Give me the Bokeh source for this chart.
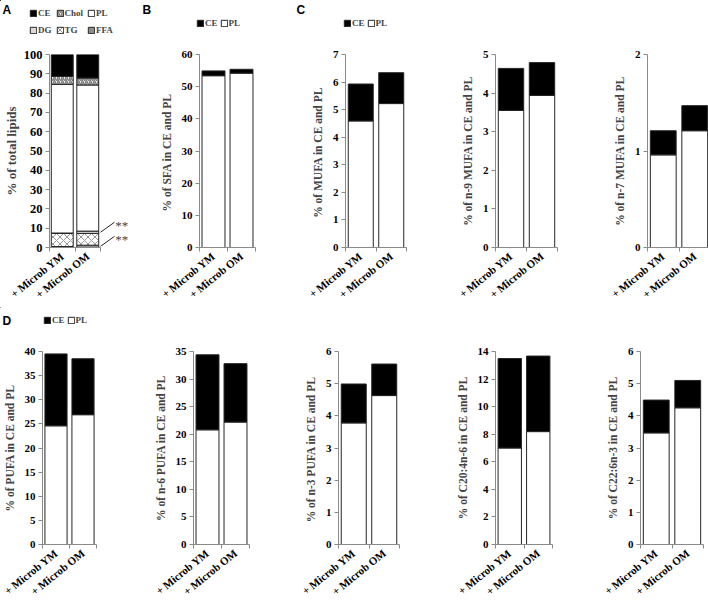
from bokeh.plotting import figure
from bokeh.layouts import row, column
from bokeh.models import Range1d, FixedTicker, Legend, LegendItem, Label, Arrow
from bokeh.embed import file_html
from bokeh.resources import INLINE

# ---------------- data ----------------
categories = ["+ Microb YM", "+ Microb OM"]

# Panel A: % of total lipids, stacked bottom -> top
lipid_classes = ["FFA", "TG", "DG", "PL", "Chol", "CE"]
lipids_ym = [0.5, 6.8, 0.2, 77.0, 4.1, 11.4]
lipids_om = [1.2, 6.1, 1.2, 75.7, 3.6, 12.2]
legend_order_a = ["CE", "Chol", "PL", "DG", "TG", "FFA"]
ticks_a = [0, 10, 20, 30, 40, 50, 60, 70, 80, 90, 100]

# CE / PL panels
sfa_pl = [53.4, 54.2]
sfa_ce = [1.5, 1.2]
ticks_sfa = [0, 10, 20, 30, 40, 50, 60]

mufa_pl = [4.59, 5.22]
mufa_ce = [1.34, 1.12]
ticks_mufa = [0, 1, 2, 3, 4, 5, 6, 7]

n9_pl = [3.55, 3.94]
n9_ce = [1.09, 0.85]
ticks_n9 = [0, 1, 2, 3, 4, 5]

n7_pl = [0.96, 1.21]
n7_ce = [0.25, 0.26]
ticks_n7 = [0, 1, 2]

pufa_pl = [24.6, 26.9]
pufa_ce = [14.9, 11.6]
ticks_pufa = [0, 5, 10, 15, 20, 25, 30, 35, 40]

n6_pl = [20.8, 22.2]
n6_ce = [13.6, 10.6]
ticks_n6 = [0, 5, 10, 15, 20, 25, 30, 35]

n3_pl = [3.78, 4.63]
n3_ce = [1.21, 0.98]
ticks_n3 = [0, 1, 2, 3, 4, 5, 6]

c20_pl = [7.0, 8.19]
c20_ce = [6.49, 5.48]
ticks_c20 = [0, 2, 4, 6, 8, 10, 12, 14]

c22_pl = [3.47, 4.25]
c22_ce = [1.02, 0.85]
ticks_c22 = [0, 1, 2, 3, 4, 5, 6]

# ---------------- style / layout ----------------
SERIF = "Liberation Serif"
SANS = "Liberation Sans"
GREY = "#8a8a8a"
EDGE = "#262626"
PAGE_W = 708
FH = 193
H1, MBT1 = 37, 17
H2, MBT2 = 22, 22
MBB = 60
OFF = [-1000]  # off-canvas position for the legend-only swatch renderers

A_FILL = {"CE": "black", "Chol": "white", "PL": "white", "DG": "#d9d9d9", "TG": "white", "FFA": "#8c8c8c"}
A_HATCH = {"Chol": dict(hatch_pattern="/", hatch_color="#7f7f7f", hatch_weight=1.6, hatch_scale=4),
           "TG": dict(hatch_pattern="x", hatch_color="#9a9a9a", hatch_weight=1, hatch_scale=7)}


def make_fig(fw, mbl, mbr, mbt, ticks, ylabel, tick_px="11px", label_px="11.5px", label_standoff=6,
             data_fw=None):
    n = len(categories)
    centers = [i + 0.5 for i in range(n)]
    bounds = [float(i) for i in range(n + 1)]
    x_end = n if data_fw is None else n * fw / data_fw
    p = figure(frame_width=fw, frame_height=FH, min_border_left=mbl, min_border_right=mbr,
               min_border_top=mbt, min_border_bottom=MBB,
               x_range=Range1d(0, x_end), y_range=Range1d(ticks[0], ticks[-1]),
               output_backend="svg", toolbar_location=None, tools="")
    p.outline_line_color = None
    p.xgrid.visible = False
    p.ygrid.visible = False
    ya = p.yaxis[0]
    ya.ticker = FixedTicker(ticks=ticks)
    ya.axis_label = ylabel
    ya.axis_label_text_font = SERIF
    ya.axis_label_text_font_style = "bold"
    ya.axis_label_text_font_size = label_px
    ya.axis_label_standoff = label_standoff
    ya.major_label_text_font = SERIF
    ya.major_label_text_font_style = "bold"
    ya.major_label_text_font_size = tick_px
    ya.major_label_text_color = "black"
    ya.axis_line_color = GREY
    ya.major_tick_line_color = GREY
    ya.major_tick_in = 0
    ya.major_tick_out = 4
    ya.minor_tick_line_color = None
    ya.major_label_standoff = 3
    xa = p.xaxis[0]
    xa.ticker = FixedTicker(ticks=centers, minor_ticks=bounds)
    xa.bounds = (0, n)
    xa.major_label_overrides = {c: lab for c, lab in zip(centers, categories)}
    xa.major_label_orientation = 0.68
    xa.major_label_text_font = SERIF
    xa.major_label_text_font_style = "bold"
    xa.major_label_text_font_size = "11px"
    xa.major_label_text_color = "black"
    xa.major_label_standoff = 3
    xa.major_tick_line_color = None
    xa.major_tick_in = 0
    xa.major_tick_out = 0
    xa.minor_tick_line_color = GREY
    xa.minor_tick_in = 0
    xa.minor_tick_out = 4
    xa.axis_line_color = GREY
    return p, centers


def make_header(h):
    p = figure(width=PAGE_W, height=h, x_range=Range1d(0, PAGE_W), y_range=Range1d(h, 0),
               min_border=0, output_backend="svg", toolbar_location=None, tools="",
               x_axis_location=None, y_axis_location=None)
    p.outline_line_color = None
    p.grid.visible = False
    return p


def add_legend(p, items, vx, vy, ncols, label_height=10, spacing=2):
    lg = Legend(items=items, location=(vx, vy), orientation="horizontal", ncols=ncols,
                label_text_font=SERIF, label_text_font_style="bold", label_text_font_size="9px",
                glyph_width=8, glyph_height=8, label_standoff=1, spacing=spacing, padding=0, margin=0,
                label_width=0, label_height=label_height, border_line_color=None,
                background_fill_alpha=0)
    p.add_layout(lg)


def add_letter(p, letter, x, y):
    p.add_layout(Label(x=x, y=y, text=letter, text_font=SANS, text_font_style="bold",
                       text_font_size="12px", text_align="left", text_baseline="middle",
                       text_color="black"))


def swatch(hdr, **kw):
    return hdr.vbar(x=OFF, bottom=OFF, top=OFF, width=1, line_color=EDGE, line_width=1, **kw)


def ce_pl_panel(fw, mbl, mbr, mbt, ticks, ylabel, pl, ce, width=0.82):
    p, cen = make_fig(fw, mbl, mbr, mbt, ticks, ylabel)
    tops = [a + b for a, b in zip(pl, ce)]
    p.vbar(x=cen, bottom=0, top=pl, width=width, fill_color="white", line_color=EDGE, line_width=1)
    p.vbar(x=cen, bottom=pl, top=tops, width=width, fill_color="black", line_color=EDGE, line_width=1)
    return p


def ce_pl_legend_items(hdr):
    return [LegendItem(label="CE", renderers=[swatch(hdr, fill_color="black")]),
            LegendItem(label="PL", renderers=[swatch(hdr, fill_color="white")])]


# ---------------- headers (panel letters + legends) ----------------
hdr1 = make_header(H1)
a_items = []
for name in legend_order_a:
    kw = dict(fill_color=A_FILL[name])
    kw.update(A_HATCH.get(name, {}))
    a_items.append(LegendItem(label=name, renderers=[swatch(hdr1, **kw)]))
add_legend(hdr1, a_items, 29, 0.5, 3, label_height=13, spacing=4)
add_legend(hdr1, ce_pl_legend_items(hdr1), 196, 9, 2)
add_legend(hdr1, ce_pl_legend_items(hdr1), 343, 9, 2)
add_letter(hdr1, "A", 2, 9)
add_letter(hdr1, "B", 142, 9)
add_letter(hdr1, "C", 296, 9)

hdr2 = make_header(H2)
add_legend(hdr2, ce_pl_legend_items(hdr2), 43, 4, 2)
add_letter(hdr2, "D", 2, 13.5)

# ---------------- panel A ----------------
pa, cen_a = make_fig(82, 42, 4, MBT1, ticks_a, "% of total lipids", tick_px="12.5px", label_px="13px",
                     label_standoff=2, data_fw=51)
for j, name in enumerate(lipid_classes):
    bottoms = [sum(v[:j]) for v in (lipids_ym, lipids_om)]
    tops = [sum(v[:j + 1]) for v in (lipids_ym, lipids_om)]
    kw = dict(fill_color=A_FILL[name], line_color=EDGE, line_width=1)
    kw.update(A_HATCH.get(name, {}))
    pa.vbar(x=cen_a, bottom=bottoms, top=tops, width=0.86, **kw)

ffa_mid = lipids_om[0] / 2
dg_mid = lipids_om[0] + lipids_om[1] + lipids_om[2] / 2
for y0 in (ffa_mid, dg_mid):
    pa.add_layout(Arrow(end=None, x_start=2.0, y_start=y0, x_end=2.55, y_end=y0 + 5.2,
                        line_color=EDGE, line_width=1))
    pa.add_layout(Label(x=2.58, y=y0 + 5.2, text="**", text_font=SERIF, text_font_size="13px",
                        text_color="#444444", text_baseline="alphabetic", y_offset=-3))

# ---------------- other panels ----------------
pb = ce_pl_panel(56, 64, 30, MBT1, ticks_sfa, "% of SFA  in CE and PL", sfa_pl, sfa_ce)
pc1 = ce_pl_panel(61, 60, 29, MBT1, ticks_mufa, "% of MUFA  in CE and PL", mufa_pl, mufa_ce)
pc2 = ce_pl_panel(62, 60, 10, MBT1, ticks_n9, "% of n-9 MUFA in CE and PL", n9_pl, n9_ce)
pc3 = ce_pl_panel(63, 80, 5, MBT1, ticks_n7, "% of n-7 MUFA in CE and PL", n7_pl, n7_ce)

pd1 = ce_pl_panel(54, 42, 44, MBT2, ticks_pufa, "% of PUFA in CE and PL", pufa_pl, pufa_ce)
pd2 = ce_pl_panel(56, 53, 31, MBT2, ticks_n6, "% of n-6 PUFA in CE and PL", n6_pl, n6_ce)
pd3 = ce_pl_panel(61, 58, 21, MBT2, ticks_n3, "% of  n-3 PUFA in CE and PL", n3_pl, n3_ce)
pd4 = ce_pl_panel(57, 75, 8, MBT2, ticks_c20, "% of C20:4n-6 in CE and PL", c20_pl, c20_ce)
pd5 = ce_pl_panel(63, 80, 5, MBT2, ticks_c22, "% of C22:6n-3 in CE and PL", c22_pl, c22_ce)

layout = column(hdr1, row(pa, pb, pc1, pc2, pc3), hdr2, row(pd1, pd2, pd3, pd4, pd5))

open("out.html", "w").write(file_html(layout, INLINE))
